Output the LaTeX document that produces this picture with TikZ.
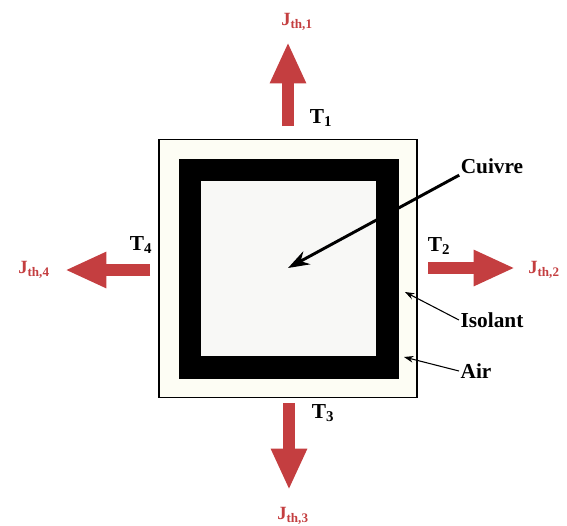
\documentclass[tikz,border=0pt]{standalone}
\usepackage{fontspec}
\setmainfont{Liberation Serif}
\usepackage{xcolor}
\usetikzlibrary{
arrows.meta,
positioning,
calc
}
\definecolor{fluxred}{RGB}{196,62,64}
\definecolor{airfill}{RGB}{253,253,244}
\definecolor{cuivrefill}{RGB}{248,248,246}

\begin{document}
\begin{tikzpicture}[
x=0.75pt,y=-0.75pt,
layer/.style={
minimum size=#1,
inner sep=0pt,
outer sep=0pt
},
flux/.style={
fluxred,
line width=9pt,
-{Triangle[length=31pt,width=25pt]}
},
lbl/.style={
font=\fontsize{16}{18}\selectfont\bfseries,
inner sep=1pt
},
jlbl/.style={
font=\fontsize{14}{16}\selectfont\bfseries,
text=fluxred,
inner sep=1pt
},
pointer/.style={-{Stealth[length=7pt,width=5pt]},thick}
]
\useasboundingbox (0,0) rectangle (567,525);

% la section
\node[layer=193.5pt,draw,line width=1.1pt,fill=airfill] (air) at (288,268.5) {};
\node[layer=165pt,fill=black] (isolant) at (288.5,268.5) {};
\node[layer=131.25pt,fill=cuivrefill] (cuivre) at (288.5,268.5) {};

% flux thermiques
\coordinate (s1) at (288,126);
\coordinate (e1) at (288,42);
\coordinate (s2) at (428,268);
\coordinate (e2) at (515,268);
\coordinate (s3) at (289,403);
\coordinate (e3) at (289,490);
\coordinate (s4) at (150,270);
\coordinate (e4) at (65,270);

\draw[flux] (s1) -- (e1);
\draw[flux] (s2) -- (e2);
\draw[flux] (s3) -- (e3);
\draw[flux] (s4) -- (e4);

\node[jlbl] (j1) at (297,22) {J\textsubscript{th,1}};
\node[jlbl] (j2) at (544,270) {J\textsubscript{th,2}};
\node[jlbl] (j3) at (293,516) {J\textsubscript{th,3}};
\node[jlbl] (j4) at (34,270) {J\textsubscript{th,4}};

\node[lbl] (t1) at (321,118) {T\textsubscript{1}};
\node[lbl] (t2) at (439,246) {T\textsubscript{2}};
\node[lbl] (t3) at (323,413) {T\textsubscript{3}};
\node[lbl] (t4) at (141,245) {T\textsubscript{4}};

% materiaux
\node[lbl] (lcuivre) at (492,166) {Cuivre};
\node[lbl] (lisolant) at (492,320) {Isolant};
\node[lbl] (lair) at (476,371) {Air};

\coordinate (pcuivre) at (288,268);
\coordinate (pisolant) at (405,292);
\coordinate (pair) at (404,357);

\draw[line width=2.2pt,-{Stealth[length=16pt,width=11pt]}] (lcuivre.south west) -- (pcuivre);
\draw[pointer] (lisolant.west) -- (pisolant);
\draw[pointer] (lair.west) -- (pair);

\end{tikzpicture}
\end{document}
